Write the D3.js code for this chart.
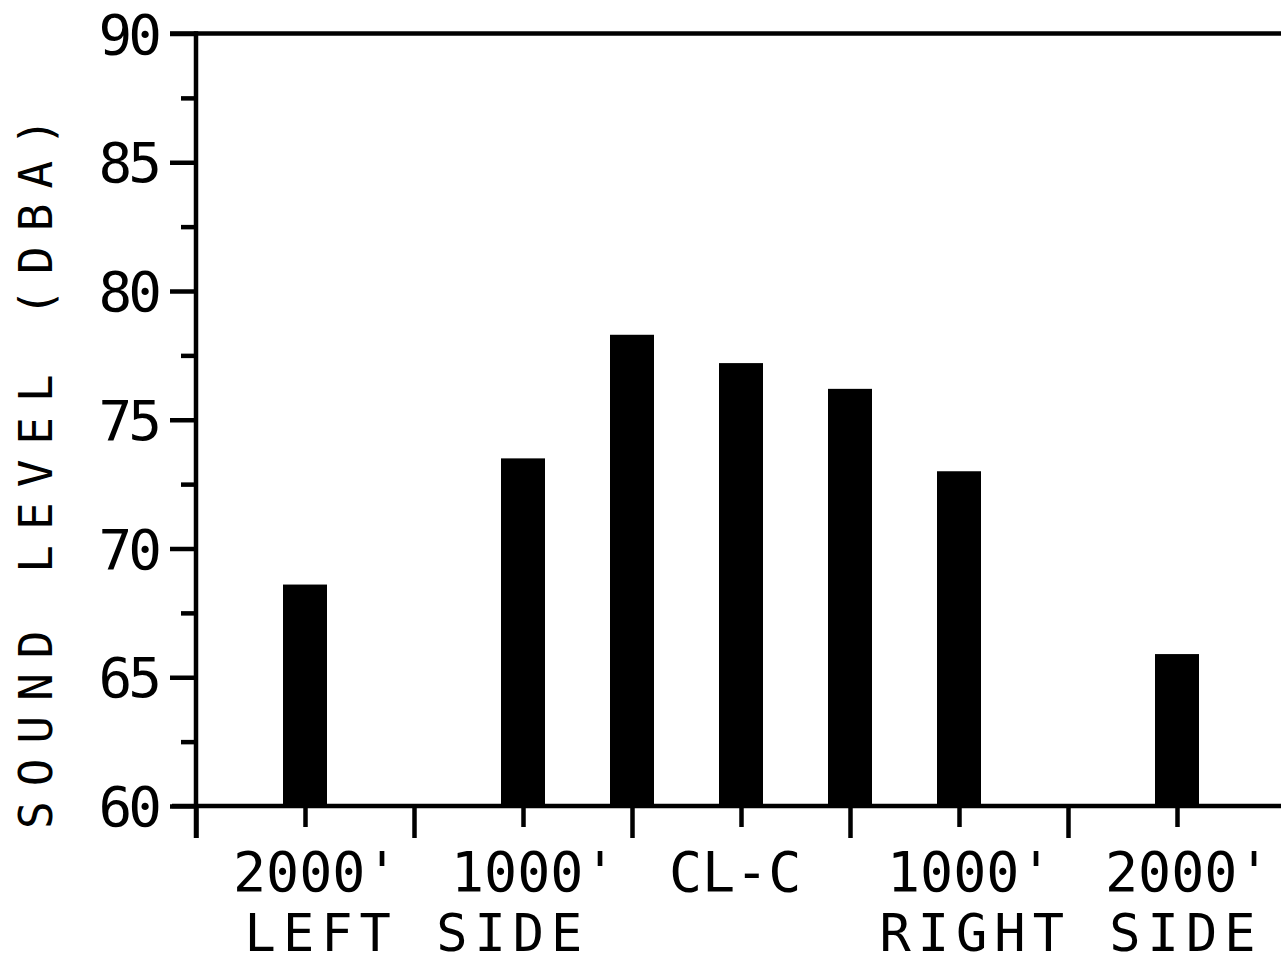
<!DOCTYPE html>
<html>
<head>
<meta charset="utf-8">
<script src="https://cdn.jsdelivr.net/npm/d3@7"></script>
<style>
  html, body { margin: 0; padding: 0; background: #fff; }
  svg { display: block; }
  text { font-family: "DejaVu Sans Mono", "Liberation Mono", monospace; fill: #000; }
</style>
</head>
<body>
<svg id="chart" width="1281" height="964"></svg>
<script>
// ---- data ----
const distances = [-2000, -1000, -500, 0, 500, 1000, 2000];      // feet from centerline (left negative)
const soundLevels = [68.6, 73.5, 78.3, 77.2, 76.2, 73.0, 65.9];   // dBA
const yMajorTicks = [60, 65, 70, 75, 80, 85, 90];
const yMinorTicks = [62.5, 67.5, 72.5, 77.5, 82.5, 87.5];
const xLongTicks = [-2500, -1500, -500, 500, 1500, 2500];
const xShortTicks = [-2000, -1000, 0, 1000, 2000];
const xLabelPositions = [-2000, -1000, 0, 1000, 2000];
const xLabelTexts = ["2000'", "1000'", "CL-C", "1000'", "2000'"];
const sidePositions = [-1500, 1500];
const sideTexts = ["LEFT SIDE", "RIGHT SIDE"];
const yTitle = "SOUND LEVEL (DBA)";

// ---- layout ----
const W = 1281, H = 964;
const axisX = 196, topY = 33.5, baseY = 806;
const svg = d3.select("#chart");

const x = d3.scaleLinear().domain([-2500, 2500]).range([axisX, 1286]);
const y = d3.scaleLinear().domain([60, 90]).range([baseY, topY]);
const barW = 44;
const sw = 4.5;

// bars
svg.append("g").selectAll("rect")
  .data(distances.map((d, i) => ({ d, v: soundLevels[i] })))
  .join("rect")
  .attr("x", p => x(p.d) - barW / 2)
  .attr("width", barW)
  .attr("y", p => y(p.v))
  .attr("height", p => y(60) - y(p.v))
  .attr("fill", "#000");

// x ticks (long and short)
const gxLong = svg.append("g").attr("transform", `translate(0,${baseY})`)
  .call(d3.axisBottom(x).tickValues(xLongTicks).tickSize(32).tickFormat(""));
const gxShort = svg.append("g").attr("transform", `translate(0,${baseY})`)
  .call(d3.axisBottom(x).tickValues(xShortTicks).tickSize(21).tickFormat(""));
[gxLong, gxShort].forEach(g => {
  g.select(".domain").remove();
  g.selectAll("line").attr("stroke", "#000").attr("stroke-width", sw);
});

// y ticks (major with labels, minor)
const gyMajor = svg.append("g").attr("transform", `translate(${axisX},0)`)
  .call(d3.axisLeft(y).tickValues(yMajorTicks).tickSize(26).tickPadding(12).tickFormat(d3.format("d")));
const gyMinor = svg.append("g").attr("transform", `translate(${axisX},0)`)
  .call(d3.axisLeft(y).tickValues(yMinorTicks).tickSize(15).tickFormat(""));
[gyMajor, gyMinor].forEach(g => {
  g.select(".domain").remove();
  g.selectAll("line").attr("stroke", "#000").attr("stroke-width", sw);
});
gyMajor.selectAll("text")
  .attr("font-family", "DejaVu Sans Mono, monospace")
  .attr("font-size", 56)
  .attr("letter-spacing", -4)
  .attr("dy", null)
  .attr("dominant-baseline", "central")
  .attr("fill", "#000");

// axis lines and frame
svg.append("line").attr("x1", axisX).attr("x2", axisX).attr("y1", topY - sw / 2).attr("y2", baseY + 32)
  .attr("stroke", "#000").attr("stroke-width", sw);
svg.append("line").attr("x1", 170).attr("x2", W).attr("y1", topY).attr("y2", topY)
  .attr("stroke", "#000").attr("stroke-width", sw);
svg.append("line").attr("x1", 172).attr("x2", W).attr("y1", baseY).attr("y2", baseY)
  .attr("stroke", "#000").attr("stroke-width", sw);

// x labels
svg.append("g").selectAll("text")
  .data(xLabelPositions.map((d, i) => ({ d, t: xLabelTexts[i] })))
  .join("text")
  .attr("x", p => x(p.d) - 72)
  .attr("y", 891)
  .attr("font-size", 55)
  .attr("text-anchor", "start")
  .text(p => p.t);

// side labels
svg.append("g").selectAll("text")
  .data(sidePositions.map((d, i) => ({ d, t: sideTexts[i] })))
  .join("text")
  .attr("x", p => x(p.d) + 3)
  .attr("y", 951)
  .attr("font-size", 52)
  .attr("letter-spacing", 7)
  .attr("text-anchor", "middle")
  .text(p => p.t);

// y title
svg.append("text")
  .attr("transform", "translate(52,466) rotate(-90)")
  .attr("font-size", 46)
  .attr("letter-spacing", 15)
  .attr("text-anchor", "middle")
  .text(yTitle);
</script>
</body>
</html>
